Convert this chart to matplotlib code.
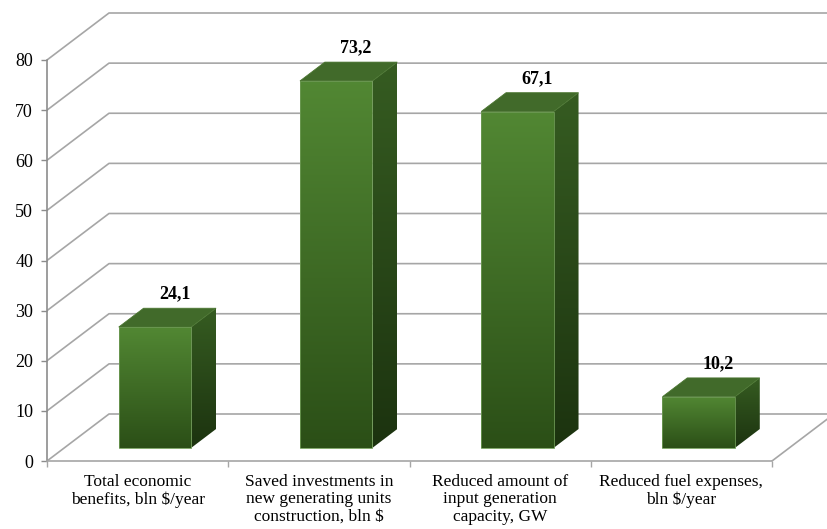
import numpy as np
import matplotlib
matplotlib.use("Agg")
import matplotlib.pyplot as plt
from matplotlib.patches import Polygon

# data
categories = ["Total economic\nbenefits, bln $/year",
              "Saved investments in\nnew generating units\nconstruction, bln $",
              "Reduced amount of\ninput generation\ncapacity, GW",
              "Reduced fuel expenses,\nbln $/year"]
values = [24.1, 73.2, 67.1, 10.2]
y_ticks = [0, 10, 20, 30, 40, 50, 60, 70, 80]

plt.rcParams['font.family'] = ['Liberation Serif', 'DejaVu Serif']

W, H = 827, 529
fig = plt.figure(figsize=(W / 100, H / 100), dpi=100)
# axes: left spine at px 47, value 0 at px 461
px_x = 181.25     # pixels per category
px_y = 5.0125     # pixels per value unit
ax = fig.add_axes([47 / W, (H - 461) / H, (W - 47) / W, 461 / H])
ax.set_xlim(0, (W - 47) / px_x)
ax.set_ylim(0, 461 / px_y)
ax.set_autoscale_on(False)

# depth projection (full depth of the floor)
DX = 62 / px_x
DY = 47 / px_y

def proj(x, y, d):
    return (x + d * DX, y + d * DY)

grid_col = '#a6a6a6'
# back wall gridlines + side wall diagonals
for v in y_ticks:
    p0 = proj(0, v, 0)
    p1 = proj(0, v, 1)
    ax.plot([p0[0], p1[0], ax.get_xlim()[1]], [p0[1], p1[1], p1[1]],
            color=grid_col, lw=1.2, zorder=1, solid_capstyle='butt')
# floor right edge
f0 = proj(len(values), 0, 0)
f1 = proj(len(values), 0, 1)
ax.plot([f0[0], f1[0]], [f0[1], f1[1]], color=grid_col, lw=1.2, zorder=1)


def grad_face(pts, c_top, c_bot, z):
    poly = Polygon(pts, closed=True, facecolor='none', edgecolor='none')
    ax.add_patch(poly)
    xs = [p[0] for p in pts]
    ys = [p[1] for p in pts]
    n = 64
    t = np.linspace(0, 1, n)[:, None]
    c_top = np.array(c_top)
    c_bot = np.array(c_bot)
    img = c_top[None, :] * (1 - t) + c_bot[None, :] * t
    img = img[:, None, :].repeat(2, axis=1)
    im = ax.imshow(img, extent=[min(xs), max(xs), min(ys), max(ys)],
                   aspect='auto', origin='upper', zorder=z, interpolation='bilinear')
    im.set_clip_path(poly)


bw = 0.4
d0, d1 = 0.28, 0.68
for i, v in enumerate(values):
    xl = i + 0.5 - bw / 2
    xr = i + 0.5 + bw / 2
    z = 3 + i
    # front face
    front = [proj(xl, 0, d0), proj(xr, 0, d0), proj(xr, v, d0), proj(xl, v, d0)]
    grad_face(front, (0.32, 0.53, 0.20), (0.17, 0.31, 0.09), z)
    # side face
    side = [proj(xr, 0, d0), proj(xr, 0, d1), proj(xr, v, d1), proj(xr, v, d0)]
    grad_face(side, (0.21, 0.36, 0.13), (0.11, 0.20, 0.06), z)
    # top face
    top = [proj(xl, v, d0), proj(xr, v, d0), proj(xr, v, d1), proj(xl, v, d1)]
    ax.add_patch(Polygon(top, closed=True, facecolor='#416a2a',
                         edgecolor='#4a7530', lw=0.6, zorder=z))
    ax.add_patch(Polygon(front, closed=True, facecolor='none',
                         edgecolor='#6e9a55', lw=0.6, zorder=z + 0.1))
    lx, _ = proj(i + 0.5, v, 0.6)
    _, ly = proj(i + 0.5, v, d1)
    ax.annotate(f"{v:.1f}".replace('.', ','), (lx, ly),
                xytext=(0, 4), textcoords='offset points',
                ha='center', va='bottom', fontsize=13, fontweight='bold', zorder=10)

# axes styling
for s in ['top', 'right']:
    ax.spines[s].set_visible(False)
ax.spines['left'].set_bounds(0, 80)
ax.spines['bottom'].set_bounds(0, len(values))
ax.spines['left'].set_color('#8c8c8c')
ax.spines['bottom'].set_color('#a6a6a6')
ax.spines['left'].set_linewidth(1.2)
ax.spines['bottom'].set_linewidth(1.2)
ax.set_yticks(y_ticks)
ax.set_yticklabels([str(t) for t in y_ticks], fontsize=13)
ax.tick_params(axis='y', length=4, width=1, color='#8c8c8c', pad=6)
ax.set_xticks(range(len(values) + 1))
ax.set_xticklabels([])
ax.set_xticks([i + 0.5 for i in range(len(values))], minor=True)
ax.set_xticklabels(categories, minor=True, fontsize=12.5, linespacing=1.15)
ax.tick_params(axis='x', which='major', length=4, width=1, color='#a6a6a6')
ax.tick_params(axis='x', which='minor', length=0, pad=9)
ax.patch.set_alpha(0)

fig.savefig('out.png', dpi=100)
